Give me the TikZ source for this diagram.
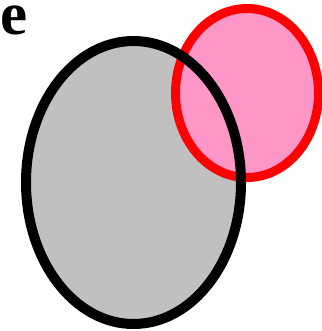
\documentclass[tikz,border=0pt]{standalone}
\usepackage{fontspec}
\setmainfont{Liberation Serif}
\definecolor{lgray}{HTML}{C0C0C0}
\definecolor{lpink}{HTML}{FF96C8}
\begin{document}
\begin{tikzpicture}[x=1pt,y=-1pt,
  blackring/.style={draw=black,line width=10pt},
  redring/.style={draw=red,line width=9pt,fill=lpink}]
\useasboundingbox (0,0) rectangle (321,331);
\fill[white] (0,0) rectangle (321,331);
\fill[lgray] (133.5,182.5) ellipse [x radius=107.5, y radius=141.5];
\path[redring] (247,93) ellipse [x radius=71.5, y radius=84.5];
\path[blackring] (133.5,182.5) ellipse [x radius=107.5, y radius=141.5];
\node[anchor=base west,inner sep=0pt,font=\fontsize{61}{61}\selectfont\bfseries] (lbl) at (0.3,34.5) {e};
\end{tikzpicture}
\end{document}
